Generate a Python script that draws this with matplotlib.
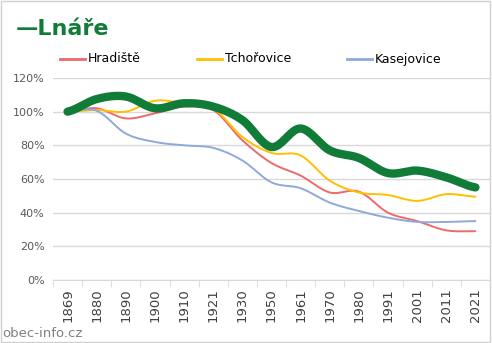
import numpy as np
import matplotlib
matplotlib.use('Agg')
import matplotlib.pyplot as plt
from matplotlib.patches import Rectangle
from matplotlib.lines import Line2D

years = ['1869', '1880', '1890', '1900', '1910', '1921', '1930', '1950',
         '1961', '1970', '1980', '1991', '2001', '2011', '2021']

# index, 1869 = 100 %
lnare = [100, 107.5, 109, 102, 105, 103, 95, 79, 90, 77, 72.5, 63.5, 65, 61, 55]
hradiste = [100, 102, 96, 99, 103, 101, 83, 69.5, 62, 52, 52.5, 40, 35, 29.5, 29]
tchorovice = [100, 101, 100, 106.5, 105, 102, 85, 75.5, 74, 59, 52, 50.5, 47, 51, 49.5]
kasejovice = [100, 100.5, 87, 82, 80, 78.5, 71, 58, 54.5, 46, 41, 37, 34.5, 34.5, 35]

series = [('Hradiště', hradiste, '#EE6A6A'),
          ('Tchořovice', tchorovice, '#FFC000'),
          ('Kasejovice', kasejovice, '#8EA9DB')]


def smooth(y, n=20):
    # Catmull-Rom style smoothing, similar to Excel "smoothed line"
    y = np.asarray(y, dtype=float)
    p = np.concatenate([[y[0]], y, [y[-1]]])
    xs, ys = [], []
    for i in range(len(y) - 1):
        p0, p1, p2, p3 = p[i], p[i + 1], p[i + 2], p[i + 3]
        t = np.linspace(0, 1, n, endpoint=False)
        yy = 0.5 * ((2 * p1) + (-p0 + p2) * t + (2 * p0 - 5 * p1 + 4 * p2 - p3) * t ** 2
                    + (-p0 + 3 * p1 - 3 * p2 + p3) * t ** 3)
        xs.append(i + t)
        ys.append(yy)
    xs.append([len(y) - 1])
    ys.append([y[-1]])
    return np.concatenate(xs), np.concatenate(ys)


W, H = 492, 343
fig = plt.figure(figsize=(W / 100, H / 100), dpi=100)
fig.patches.append(Rectangle((0.002, 0.003), 0.994, 0.993, transform=fig.transFigure,
                             fill=False, edgecolor='#D0D0D0', linewidth=1))
ax = fig.add_axes([53 / W, 63 / H, 437 / W, 202 / H])

x = np.arange(len(years))
for name, vals, col in series:
    sx, sy = smooth(vals)
    ax.plot(sx, sy, color=col, linewidth=1.4, solid_capstyle='round', zorder=3)
sx, sy = smooth(lnare)
ax.plot(sx, sy, color='#107C38', linewidth=6, solid_capstyle='round', zorder=4)

ax.set_xlim(-0.5, len(years) - 0.5)
ax.set_ylim(0, 120)
ax.set_yticks(np.arange(0, 121, 20))
ax.set_yticklabels([f'{v}%' for v in range(0, 121, 20)])
ax.set_xticks(x)
ax.set_xticklabels(years, rotation=90)
ax.set_xticks(np.arange(-0.5, len(years), 1), minor=True)
ax.tick_params(axis='x', which='major', length=0, pad=6, labelsize=9.5, colors='#404040')
ax.tick_params(axis='x', which='minor', length=5, color='#D9D9D9')
ax.tick_params(axis='y', length=0, labelsize=8, colors='#595959', pad=6)
ax.grid(axis='y', color='#D9D9D9', linewidth=1)
ax.set_axisbelow(True)
for s in ['top', 'right', 'left']:
    ax.spines[s].set_visible(False)
ax.spines['bottom'].set_color('#D9D9D9')

fig.text(16 / W, 1 - 29 / H, '—Lnáře', color='#107C38', fontsize=16, fontweight='bold',
         va='center', ha='left')

# legend row (pixel positions from the reference)
leg_x = [60, 197, 347]
leg_y = 1 - 59 / H
for (name, vals, col), lx in zip(series, leg_x):
    fig.add_artist(Line2D([lx / W, (lx + 25) / W], [leg_y, leg_y], color=col,
                          linewidth=2, transform=fig.transFigure))
    fig.text((lx + 28) / W, leg_y, name, color='#000000', fontsize=9,
             va='center', ha='left')

fig.text(0.005, 0.028, 'obec-info.cz', color='#808080', fontsize=9.5, va='center', ha='left')

plt.savefig('out.png', dpi=100)
